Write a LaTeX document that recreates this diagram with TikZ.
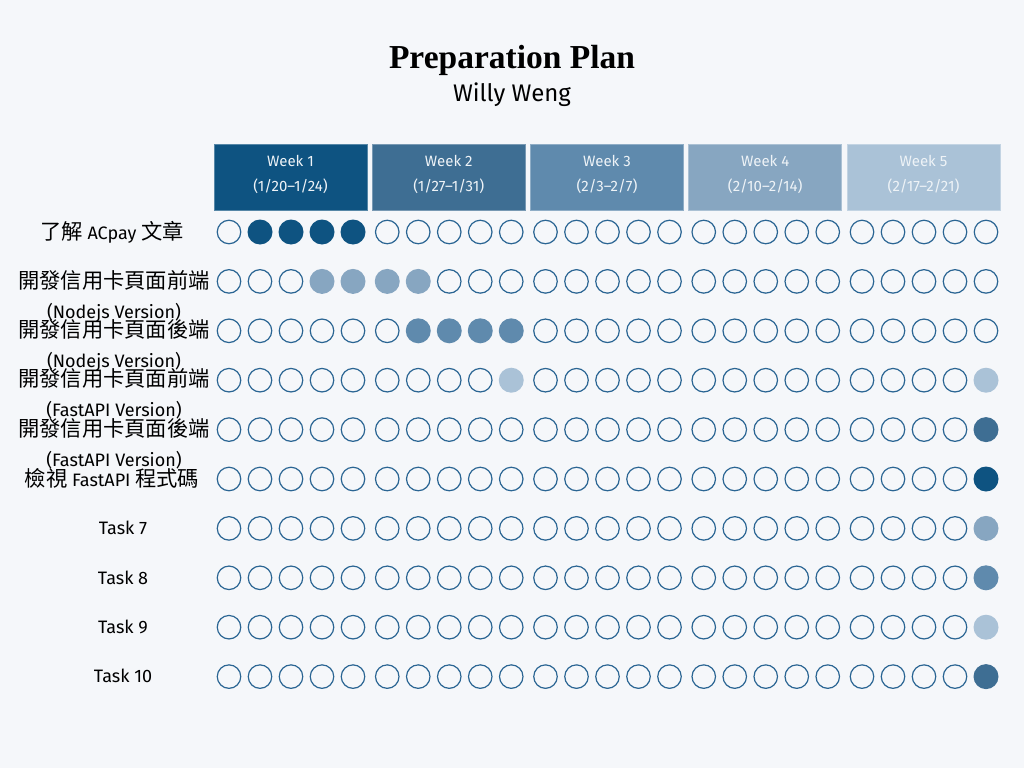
\documentclass[tikz,border=0pt]{standalone}
\usepackage{fontspec}
\setmainfont{Fira Sans}
\newfontfamily\cjk{Noto Sans CJK TC}
\newfontfamily\titlefont{Liberation Serif}
\definecolor{bg}{HTML}{F5F7FA}
\definecolor{wkA}{HTML}{0E5381}
\definecolor{wkB}{HTML}{3E6E93}
\definecolor{wkC}{HTML}{5F8AAD}
\definecolor{wkD}{HTML}{87A6C1}
\definecolor{wkE}{HTML}{AAC2D7}
\definecolor{dotline}{HTML}{2A6593}
\definecolor{wktext}{HTML}{EEF3F7}
\newcommand\latpart[1]{{\normalfont\fontsize{18}{30}\selectfont #1}}
\def\setfill#1#2#3#4{\expandafter\def\csname fill-#1-#2-#3\endcsname{#4}}
\setfill{1}{0}{1}{wkA}\setfill{1}{0}{2}{wkA}\setfill{1}{0}{3}{wkA}\setfill{1}{0}{4}{wkA}
\setfill{2}{0}{3}{wkD}\setfill{2}{0}{4}{wkD}\setfill{2}{1}{0}{wkD}\setfill{2}{1}{1}{wkD}
\setfill{3}{1}{1}{wkC}\setfill{3}{1}{2}{wkC}\setfill{3}{1}{3}{wkC}\setfill{3}{1}{4}{wkC}
\setfill{4}{1}{4}{wkE}\setfill{4}{4}{4}{wkE}
\setfill{5}{4}{4}{wkB}
\setfill{6}{4}{4}{wkA}
\setfill{7}{4}{4}{wkD}
\setfill{8}{4}{4}{wkC}
\setfill{9}{4}{4}{wkE}
\setfill{10}{4}{4}{wkB}
\begin{document}
\begin{tikzpicture}[x=1pt,y=-1pt,
  dotempty/.style={circle, draw=dotline, line width=1.2pt, fill=bg, minimum size=23.5pt, inner sep=0pt},
  dotfull/.style={circle, minimum size=25pt, inner sep=0pt},
  weekbox/.style={rectangle, draw=#1!70!white, line width=0.8pt, fill=#1, minimum width=153pt, minimum height=66pt, inner sep=0pt},
  weektext/.style={text=wktext, font=\fontsize{15}{25}\selectfont, align=center, inner sep=0pt},
  tasklabel/.style={font=\cjk\fontsize{21.3}{30}\selectfont, align=center, inner sep=0pt, anchor=base},
  simplelabel/.style={font=\fontsize{18}{22}\selectfont, inner sep=0pt}]
\fill[bg] (0,0) rectangle (1024,768);
\useasboundingbox (0,0) rectangle (1024,768);
% title
\node[font=\titlefont\bfseries\fontsize{33.5}{36}\selectfont, inner sep=0pt] (title) at (512,60) {Preparation Plan};
\node[font=\fontsize{24}{28}\selectfont, inner sep=0pt] (subtitle) at (512,94.5) {Willy Weng};
% week headers
\foreach \w/\c/\t/\dd in {0/wkA/Week 1/{(1/20–1/24)}, 1/wkB/Week 2/{(1/27–1/31)}, 2/wkC/Week 3/{(2/3–2/7)}, 3/wkD/Week 4/{(2/10–2/14)}, 4/wkE/Week 5/{(2/17–2/21)}}{
  \node[weekbox=\c] (wk\w) at ({290.5+158.25*\w},177) {};
  \node[weektext] (wk\w-t) at ({290.5+158.25*\w},174.5) {\t\\\dd};
}
% dots
\foreach \r in {1,...,10}{
  \foreach \w in {0,...,4}{
    \foreach \d in {0,...,4}{
      \ifcsname fill-\r-\w-\d\endcsname
        \node[dotfull, fill=\csname fill-\r-\w-\d\endcsname] (c-\r-\w-\d) at ({229+158.25*\w+31*\d},{232+49.4*(\r-1)}) {};
      \else
        \node[dotempty] (c-\r-\w-\d) at ({229+158.25*\w+31*\d},{232+49.4*(\r-1)}) {};
      \fi
    }
  }
}
% labels
\node[tasklabel] (l1) at (112,239) {了解 \latpart{ACpay} 文章};
\node[tasklabel] (l2) at (114,318) {開發信用卡頁面前端\\\latpart{(Nodejs Version)}};
\node[tasklabel] (l3) at (114,367.4) {開發信用卡頁面後端\\\latpart{(Nodejs Version)}};
\node[tasklabel] (l4) at (114,416.8) {開發信用卡頁面前端\\\latpart{(FastAPI Version)}};
\node[tasklabel] (l5) at (114,466.2) {開發信用卡頁面後端\\\latpart{(FastAPI Version)}};
\node[tasklabel] (l6) at (112,486.5) {檢視 \latpart{FastAPI} 程式碼};
\node[simplelabel] (l7) at (123,528) {Task 7};
\node[simplelabel] (l8) at (123,577.4) {Task 8};
\node[simplelabel] (l9) at (123,626.8) {Task 9};
\node[simplelabel] (l10) at (123,676.2) {Task 10};
\end{tikzpicture}
\end{document}
